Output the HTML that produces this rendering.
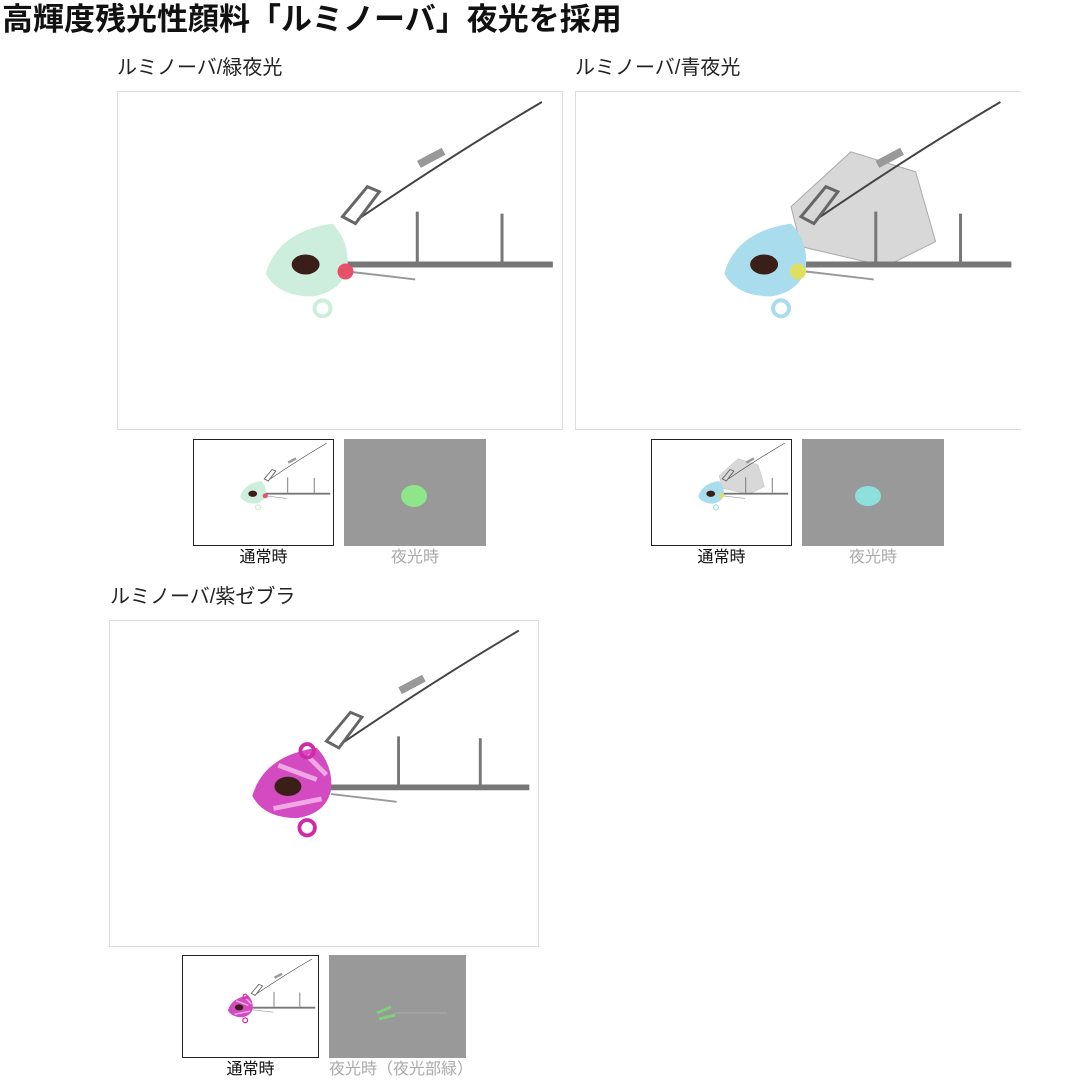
<!DOCTYPE html>
<html><head><meta charset="utf-8"><style>
body{margin:0;width:1080px;height:1080px;background:#fff;position:relative;overflow:hidden;font-family:"Liberation Sans","Noto Sans CJK JP",sans-serif;}
h1{position:absolute;left:2px;top:0;margin:0;font-size:31px;font-weight:bold;line-height:40px;color:#111;white-space:nowrap;}
.lbl{position:absolute;font-size:20px;color:#222;line-height:22px;white-space:nowrap;}
.box{position:absolute;border:1px solid #ddd;box-sizing:border-box;background:#fff;}
.th{position:absolute;border:1px solid #222;box-sizing:border-box;background:#fff;}
.gr{position:absolute;background:#999;}
.cap{position:absolute;font-size:16px;text-align:center;line-height:18px;white-space:nowrap;}
svg{position:absolute;left:0;top:0;width:100%;height:100%;}
</style></head><body>
<svg style="width:0;height:0"><defs>
<symbol id="rig" viewBox="0 0 445 338">
<path d="M240 128 Q340 60 425 10" stroke="#444" stroke-width="2" fill="none"/>
<rect x="300" y="62" width="28" height="8" fill="#999" transform="rotate(-28 314 66)"/>
<path d="M225 125 L250 95 L262 100 L238 132 Z" fill="none" stroke="#666" stroke-width="3"/>
<line x1="225" y1="173" x2="436" y2="173" stroke="#777" stroke-width="6"/>
<path d="M300 170 V120 M385 170 V122" stroke="#777" stroke-width="3"/>
<line x1="230" y1="180" x2="298" y2="188" stroke="#999" stroke-width="2"/>
</symbol>
<symbol id="fishG" viewBox="0 0 445 338"><use href="#rig"/>
<path d="M148 182 Q160 140 215 132 Q232 150 230 175 Q225 200 195 205 Q160 205 148 182Z" fill="#cdeedd"/>
<circle cx="205" cy="217" r="8" fill="none" stroke="#cdeedd" stroke-width="4"/>
<ellipse cx="188" cy="173" rx="14" ry="10" fill="#3a1f18"/><circle cx="228" cy="180" r="8" fill="#e8506a"/></symbol>
<symbol id="fishB" viewBox="0 0 445 338">
<path d="M215 115 L275 60 L340 80 L360 150 L310 175 L225 155 Z" fill="#d8d8d8" stroke="#aaa"/>
<use href="#rig"/>
<path d="M148 182 Q160 140 215 132 Q232 150 230 175 Q225 200 195 205 Q160 205 148 182Z" fill="#a9dcec"/>
<circle cx="205" cy="217" r="8" fill="none" stroke="#a9dcec" stroke-width="4"/>
<ellipse cx="188" cy="173" rx="14" ry="10" fill="#3a1f18"/><circle cx="222" cy="180" r="8" fill="#e0e060"/></symbol>
<symbol id="fishP" viewBox="0 0 445 338"><use href="#rig"/>
<path d="M148 182 Q160 140 215 132 Q232 150 230 175 Q225 200 195 205 Q160 205 148 182Z" fill="#d44ac0"/>
<path d="M175 150 L215 165 M170 195 L220 185 M205 140 L225 160" stroke="#f0a8e4" stroke-width="5"/>
<circle cx="205" cy="215" r="8" fill="none" stroke="#d02aa8" stroke-width="4"/>
<circle cx="205" cy="135" r="7" fill="none" stroke="#d02aa8" stroke-width="4"/>
<ellipse cx="185" cy="172" rx="14" ry="10" fill="#3a1f18"/></symbol>
</defs></svg>

<h1>高輝度残光性顔料「ルミノーバ」夜光を採用</h1>

<div class="lbl" style="left:117px;top:57px">ルミノーバ/緑夜光</div>
<div class="box" style="left:117px;top:91px;width:446px;height:339px"><svg><use href="#fishG"/></svg></div>
<div class="th" style="left:193px;top:439px;width:141px;height:107px"><svg preserveAspectRatio="none" viewBox="0 0 445 338"><use href="#fishG"/></svg></div>
<div class="gr" style="left:344px;top:439px;width:142px;height:107px"><svg viewBox="0 0 142 107"><ellipse cx="70" cy="57" rx="13" ry="11" fill="#8fe58a"/></svg></div>
<div class="cap" style="left:193px;top:549px;width:141px;color:#111">通常時</div>
<div class="cap" style="left:344px;top:549px;width:142px;color:#aaa">夜光時</div>

<div class="lbl" style="left:575px;top:57px">ルミノーバ/青夜光</div>
<div class="box" style="left:575px;top:91px;width:446px;height:339px;border-right:none"><svg><use href="#fishB"/></svg></div>
<div class="th" style="left:651px;top:439px;width:141px;height:107px"><svg preserveAspectRatio="none" viewBox="0 0 445 338"><use href="#fishB"/></svg></div>
<div class="gr" style="left:802px;top:439px;width:142px;height:107px"><svg viewBox="0 0 142 107"><ellipse cx="66" cy="57" rx="13" ry="10" fill="#8ee0dd"/></svg></div>
<div class="cap" style="left:651px;top:549px;width:141px;color:#111">通常時</div>
<div class="cap" style="left:802px;top:549px;width:142px;color:#aaa">夜光時</div>

<div class="lbl" style="left:110px;top:586px">ルミノーバ/紫ゼブラ</div>
<div class="box" style="left:109px;top:620px;width:430px;height:327px"><svg preserveAspectRatio="none" viewBox="0 0 445 338"><use href="#fishP"/></svg></div>
<div class="th" style="left:182px;top:955px;width:137px;height:103px"><svg preserveAspectRatio="none" viewBox="0 0 445 338"><use href="#fishP"/></svg></div>
<div class="gr" style="left:329px;top:955px;width:137px;height:103px"><svg viewBox="0 0 137 103"><path d="M48 58 L62 52 M50 64 L66 60" stroke="#7fd07a" stroke-width="3"/><line x1="66" y1="58" x2="118" y2="58" stroke="#aaa" stroke-width="1"/></svg></div>
<div class="cap" style="left:182px;top:1061px;width:137px;color:#111">通常時</div>
<div class="cap" style="left:329px;top:1061px;width:137px;color:#aaa">夜光時（夜光部緑）</div>
</body></html>
